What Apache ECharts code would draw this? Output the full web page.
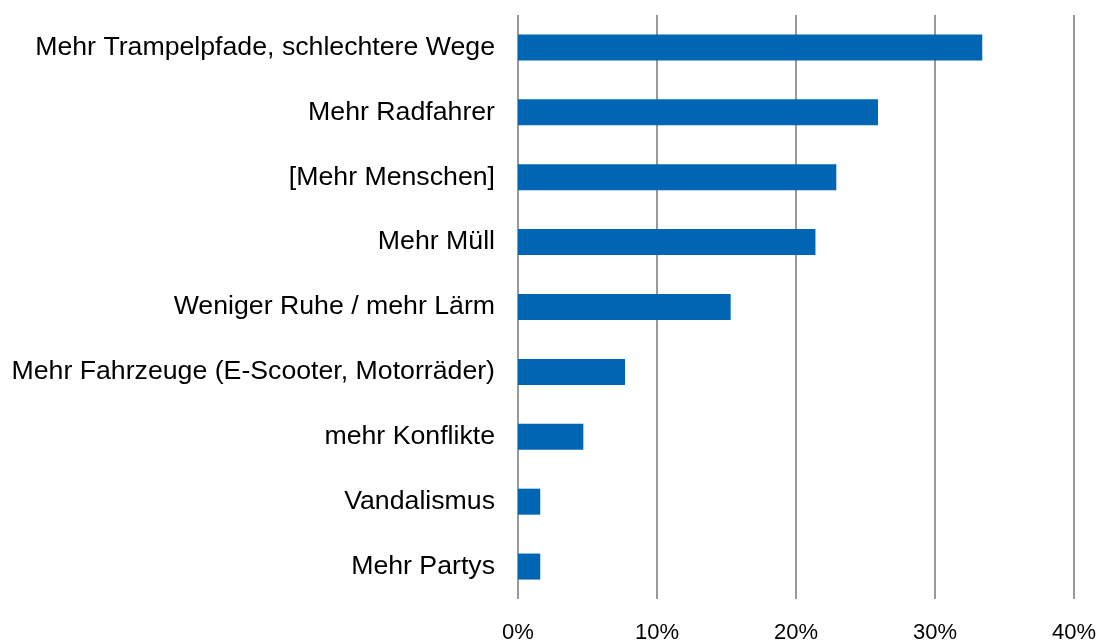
<!DOCTYPE html>
<html>
<head>
<meta charset="utf-8">
<script src="https://cdn.jsdelivr.net/npm/echarts@6/dist/echarts.min.js"></script>
<style>
  html, body { margin: 0; padding: 0; background: #fff; }
  #chart { width: 1101px; height: 644px; }
</style>
</head>
<body>
<div id="chart"></div>
<script>
var categories = [
  'Mehr Trampelpfade, schlechtere Wege',
  'Mehr Radfahrer',
  '[Mehr Menschen]',
  'Mehr Müll',
  'Weniger Ruhe / mehr Lärm',
  'Mehr Fahrzeuge (E-Scooter, Motorräder)',
  'mehr Konflikte',
  'Vandalismus',
  'Mehr Partys'
];
var values = [33.4, 25.9, 22.9, 21.4, 15.3, 7.7, 4.7, 1.6, 1.6];
var xTicks = [0, 10, 20, 30, 40];

var chart = echarts.init(document.getElementById('chart'));
chart.setOption({
  animation: false,
  grid: { left: 518, right: 27, top: 15, bottom: 45 },
  xAxis: {
    type: 'value',
    min: xTicks[0],
    max: xTicks[xTicks.length - 1],
    interval: 10,
    axisLine: { show: false },
    axisTick: { show: false },
    splitLine: { show: true, lineStyle: { color: '#999999', width: 2 } },
    axisLabel: {
      formatter: '{value}%',
      color: '#000',
      fontFamily: 'Liberation Sans',
      fontSize: 22,
      margin: 23
    }
  },
  yAxis: {
    type: 'category',
    inverse: true,
    data: categories,
    axisLine: { show: false },
    axisTick: { show: false },
    axisLabel: {
      color: '#000',
      fontFamily: 'Liberation Sans',
      fontSize: 26.7,
      margin: 23
    }
  },
  series: [{
    type: 'bar',
    data: values,
    barWidth: 26,
    itemStyle: { color: '#0066B3' }
  }]
});
</script>
</body>
</html>
